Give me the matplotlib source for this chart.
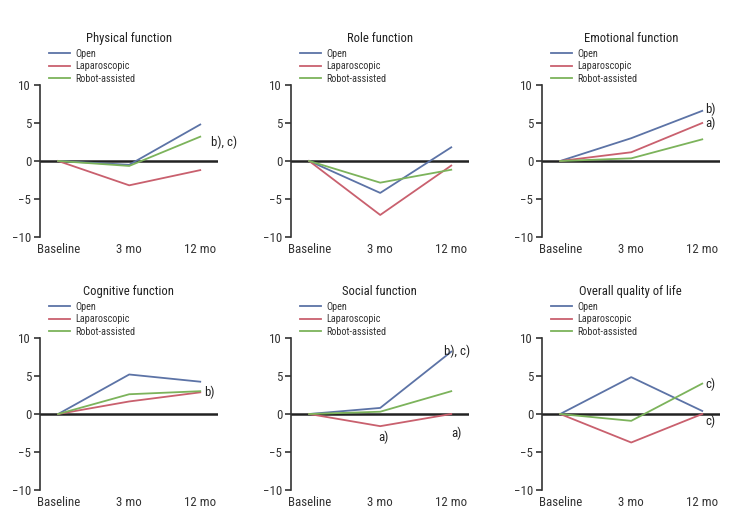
import matplotlib
matplotlib.use("Agg")
import matplotlib.pyplot as plt
from matplotlib import font_manager

# pick a condensed family if one is installed
cands = ["Roboto Condensed", "Liberation Sans Narrow", "Open Sans Condensed",
         "DejaVu Sans Condensed", "Noto Sans Condensed", "Arial Narrow"]
ttf = font_manager.fontManager.ttflist
names = {f.name for f in ttf}
fam = None
stretch = "normal"
for c in cands:
    if c in names:
        fam = c
        break
if fam is None:
    for f in ttf:
        if str(f.stretch) in ("condensed", "semi-condensed", "extra-condensed") and f.style == "normal":
            fam = f.name
            stretch = f.stretch
            break
condensed = fam is not None
if fam is None:
    fam = "Liberation Sans"
plt.rcParams['font.family'] = [fam, 'DejaVu Sans']
plt.rcParams['font.stretch'] = stretch

timepoints = ["Baseline", "3 mo", "12 mo"]
series_names = ["Open", "Laparoscopic", "Robot-assisted"]
colors = ["#5c73a6", "#c9606e", "#7cb35b"]

titles = ["Physical function", "Role function", "Emotional function",
          "Cognitive function", "Social function", "Overall quality of life"]

open_vals = [
    [0, -0.5, 4.8],
    [0, -4.2, 1.8],
    [0, 3.0, 6.6],
    [0, 5.2, 4.25],
    [0, 0.8, 8.2],
    [0, 4.85, 0.4],
]
lap_vals = [
    [0, -3.2, -1.2],
    [0, -7.1, -0.6],
    [0, 1.15, 5.0],
    [0, 1.65, 2.85],
    [0, -1.6, 0.0],
    [0, -3.75, 0.0],
]
robot_vals = [
    [0, -0.65, 3.2],
    [0, -2.85, -1.15],
    [0, 0.35, 2.85],
    [0, 2.6, 3.0],
    [0, 0.3, 3.0],
    [0, -0.9, 4.0],
]

# annotations: (panel, x index, y, text)
annotations = [
    (0, 2, 2.4, "b), c)"),
    (2, 2, 6.8, "b)"),
    (2, 2, 5.0, "a)"),
    (3, 2, 2.9, "b)"),
    (4, 2, 8.2, "b), c)"),
    (4, 1, -3.1, "a)"),
    (4, 2, -2.6, "a)"),
    (5, 2, 3.9, "c)"),
    (5, 2, -0.95, "c)"),
]
# horizontal offsets (in category units) and alignment
ann_pos = {(0, 2): (0.15, "left"), (2, 2): (0.04, "left"), (3, 2): (0.06, "left"),
           (4, 2): (0.09, "left"), (5, 2): (0.05, "left")}
ann_center = {(4, 1): 0.04, (4, 2): 0.08}

if condensed:
    fs_tick, fs_title, fs_leg, fs_ann = 9.3, 9.1, 7.3, 9.3
else:
    fs_tick, fs_title, fs_leg, fs_ann = 7.8, 9.0, 6.5, 7.8

fig = plt.figure(figsize=(7.36, 5.14), dpi=100)
W, H = 736, 514
lefts = [39.5, 290.5, 541.5]
tops = [85, 338]
aw, ah = 178.5, 152

axes = []
for i in range(6):
    r, c = divmod(i, 3)
    ax = fig.add_axes([lefts[c] / W, 1 - (tops[r] + ah) / H, aw / W, ah / H])
    axes.append(ax)
    x = list(range(len(timepoints)))
    for vals, name, col in zip([open_vals, lap_vals, robot_vals], series_names, colors):
        ax.plot(x, vals[i], color=col, lw=1.3, label=name, zorder=3)
    ax.axhline(0, color="#222222", lw=1.8, zorder=2)
    ax.set_xlim(-0.263, 2.25)
    ax.set_ylim(-10, 10)
    ax.set_yticks([-10, -5, 0, 5, 10])
    ax.set_yticklabels(["\u221210", "\u22125", "0", "5", "10"])
    ax.set_xticks(x)
    ax.set_xticklabels(timepoints)
    for s in ["top", "right", "bottom"]:
        ax.spines[s].set_visible(False)
    ax.spines["left"].set_color("#333333")
    ax.spines["left"].set_linewidth(1.2)
    ax.tick_params(axis="y", length=4, width=1.2, color="#333333", labelsize=fs_tick,
                   labelcolor="#333333", pad=2)
    ax.tick_params(axis="x", length=0, labelsize=fs_tick, labelcolor="#333333", pad=4)
    ax.patch.set_alpha(0)
    ax.set_title(titles[i], fontsize=fs_title, color="#222222", pad=31)
    leg = ax.legend(loc="lower left", bbox_to_anchor=(0.045, 1.0), frameon=False,
                    fontsize=fs_leg, handlelength=2.1, handletextpad=0.5,
                    labelspacing=0.25, borderaxespad=0.0, borderpad=0.1)
    for t in leg.get_texts():
        t.set_color("#333333")

for p, xi, y, txt in annotations:
    if (p, xi) in ann_center:
        axes[p].text(xi + ann_center[(p, xi)], y, txt, ha="center", va="center",
                     fontsize=fs_ann, color="#222222")
    else:
        dx, ha = ann_pos[(p, xi)]
        axes[p].text(xi + dx, y, txt, ha=ha, va="center",
                     fontsize=fs_ann, color="#222222")

fig.savefig("out.png", dpi=100)
